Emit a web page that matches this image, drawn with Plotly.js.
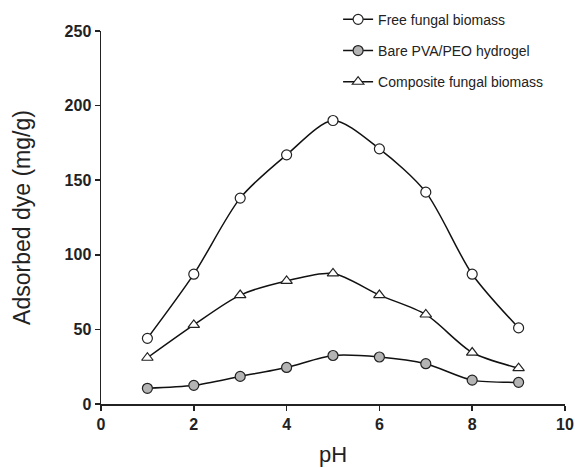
<!DOCTYPE html>
<html><head><meta charset="utf-8">
<script src="https://cdn.plot.ly/plotly-3.0.1.min.js"></script>
<style>body{margin:0;background:#fff}#c{width:575px;height:468px}</style>
</head><body><div id="c"></div>
<script>
const pH = [1, 2, 3, 4, 5, 6, 7, 8, 9];
const freeFungal = [44, 87, 138, 167, 190, 171, 142, 87, 51];
const barePVA = [10.5, 12.5, 18.5, 24.5, 32.5, 31.5, 27, 16, 14.5];
const composite = [31, 53, 73, 82.5, 87.5, 73, 60, 34.5, 24];
const names = ["Free fungal biomass", "Bare PVA/PEO hydrogel", "Composite fungal biomass"];

const lineStyle = {color: '#111', width: 1.5, shape: 'spline', smoothing: 0.8};
function tr(y, name, symbol, fill, grp) {
  return {x: pH, y: y, name: name, mode: 'lines+markers', type: 'scatter',
    legendgroup: grp, line: lineStyle,
    marker: {symbol: symbol, size: 10, color: fill, line: {color: '#222', width: 1.2}}};
}
const data = [
  tr(freeFungal, names[0], 'circle', '#ffffff', 'a'),
  tr(barePVA, names[1], 'circle', '#b4b4b4', 'b'),
  tr(composite, names[2], 'triangle-up', '#ffffff', 'c')
];
const axisCommon = {showline: true, linecolor: '#222', linewidth: 1.5, ticks: 'outside',
  ticklen: 5, tickcolor: '#222', tickwidth: 1.5, showgrid: false, zeroline: false,
  tickfont: {family: 'Liberation Sans, Arial', size: 16, color: '#222', weight: 'bold'}};
const layout = {
  width: 575, height: 468,
  margin: {l: 101, r: 10, t: 31, b: 64, autoexpand: false},
  paper_bgcolor: '#fff', plot_bgcolor: '#fff',
  showlegend: true,
  legend: {xref: 'container', yref: 'container', x: 0.588, y: 0.992, xanchor: 'left', yanchor: 'top',
    tracegroupgap: 10, font: {family: 'Liberation Sans, Arial', size: 14, color: '#222'}, itemwidth: 30},
  xaxis: Object.assign({}, axisCommon, {range: [0, 10], dtick: 2,
    title: {text: 'pH', font: {family: 'Liberation Sans, Arial', size: 22, color: '#222'}, standoff: 15}}),
  yaxis: Object.assign({}, axisCommon, {range: [0, 250], dtick: 50,
    title: {text: 'Adsorbed dye (mg/g)', font: {family: 'Liberation Sans, Arial', size: 23, color: '#222'}, standoff: 27}})
};
Plotly.newPlot('c', data, layout, {displayModeBar: false, staticPlot: true});
</script></body></html>
